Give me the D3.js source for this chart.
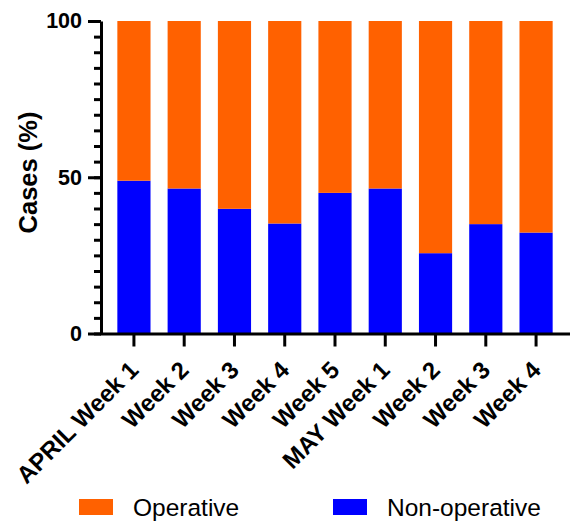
<html>
<head>
<script src="https://cdn.jsdelivr.net/npm/d3@7"></script>
<style>
  body { margin: 0; background: #fff; }
  text { font-family: "Liberation Sans", Arial, sans-serif; }
</style>
</head>
<body>
<div id="chart"></div>
<script>
// data (percent of cases per week)
var weeks = ["APRIL Week 1", "Week 2", "Week 3", "Week 4", "Week 5",
             "MAY Week 1", "Week 2 ", "Week 3 ", "Week 4 "];
var nonOperative = [48.9, 46.4, 39.9, 35.2, 45.0, 46.4, 25.7, 35.0, 32.3];
var operative    = [51.1, 53.6, 60.1, 64.8, 55.0, 53.6, 74.3, 65.0, 67.7];
var seriesNames  = ["Non-operative", "Operative"];
var seriesColors = ["#0000ff", "#ff6100"];
var yTicks = [0, 50, 100];

var W = 570, H = 521;
var svg = d3.select("#chart").append("svg").attr("width", W).attr("height", H);

// rows for the stack
var rows = weeks.map(function (w, i) {
  return { week: w, "Non-operative": nonOperative[i], "Operative": operative[i] };
});
var stacked = d3.stack().keys(seriesNames)(rows);

var x = d3.scaleBand().domain(weeks).range([100, 570])
  .paddingInner(0.34).paddingOuter(0.345);
var y = d3.scaleLinear().domain([0, 100]).range([333.5, 21]);

// bars
svg.selectAll("g.layer")
  .data(stacked)
  .enter().append("g")
  .attr("class", "layer")
  .attr("fill", function (d, i) { return seriesColors[i]; })
  .selectAll("rect")
  .data(function (d) { return d; })
  .enter().append("rect")
  .attr("x", function (d) { return x(d.data.week); })
  .attr("width", x.bandwidth())
  .attr("y", function (d) { return y(d[1]); })
  .attr("height", function (d) { return y(d[0]) - y(d[1]); });

// y axis: minor ticks every 5, major at 0/50/100
var yMinor = svg.append("g").attr("transform", "translate(101,0)")
  .call(d3.axisLeft(y).tickValues(d3.range(0, 101, 5)).tickSize(7).tickSizeOuter(0).tickFormat(""));
yMinor.select(".domain").remove();
yMinor.selectAll("line").attr("stroke", "#000").attr("stroke-width", 3);

var yAxis = svg.append("g").attr("transform", "translate(101,0)")
  .call(d3.axisLeft(y).tickValues(yTicks).tickSize(13).tickSizeOuter(0).tickPadding(6));
yAxis.select(".domain").attr("stroke", "#000").attr("stroke-width", 3);
yAxis.selectAll("line").attr("stroke", "#000").attr("stroke-width", 3);
yAxis.selectAll("text")
  .attr("font-size", "21.5px").attr("font-weight", "bold").attr("fill", "#000")
  .attr("font-family", "'Liberation Sans', Arial, sans-serif");

// x axis
var xAxis = svg.append("g").attr("transform", "translate(0,333.5)")
  .call(d3.axisBottom(x).tickSize(13).tickSizeOuter(0));
xAxis.select(".domain").attr("stroke", "#000").attr("stroke-width", 3);
xAxis.selectAll("line").attr("stroke", "#000").attr("stroke-width", 3);
xAxis.selectAll("text")
  .text(function (d) { return d.trim(); })
  .attr("font-size", "24px").attr("font-weight", "bold").attr("fill", "#000")
  .attr("font-family", "'Liberation Sans', Arial, sans-serif")
  .attr("text-anchor", "end")
  .attr("dy", 0).attr("y", 0)
  .attr("transform", "translate(6,38) rotate(-45)");

// y axis title
svg.append("text")
  .attr("transform", "translate(37,172.5) rotate(-90)")
  .attr("text-anchor", "middle")
  .attr("font-size", "25.5px").attr("font-weight", "bold")
  .text("Cases (%)");

// legend
var legend = [
  { name: "Operative", color: seriesColors[1], x: 79 },
  { name: "Non-operative", color: seriesColors[0], x: 333 }
];
var lg = svg.selectAll("g.legend").data(legend).enter().append("g")
  .attr("class", "legend")
  .attr("transform", function (d) { return "translate(" + d.x + ",499)"; });
lg.append("rect").attr("width", 34).attr("height", 16).attr("fill", function (d) { return d.color; });
lg.append("text").attr("x", 54).attr("y", 17)
  .attr("font-size", "24.5px")
  .text(function (d) { return d.name; });
</script>
</body>
</html>
